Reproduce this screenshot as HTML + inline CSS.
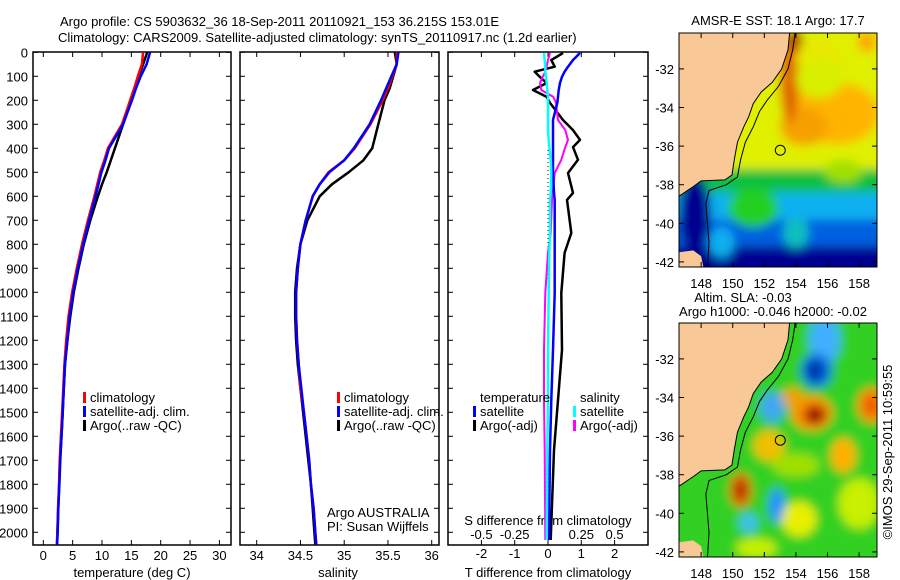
<!DOCTYPE html>
<html><head><meta charset="utf-8">
<style>
html,body{margin:0;padding:0;background:#fff;}
svg{display:block;font-family:"Liberation Sans",Arial,sans-serif;font-size:13px;}
</style></head>
<body>
<svg id="fig" width="900" height="580" viewBox="0 0 900 580" xmlns="http://www.w3.org/2000/svg">
<defs>
<filter id="blur1" x="-20%" y="-20%" width="140%" height="140%"><feGaussianBlur stdDeviation="5"/></filter>
<clipPath id="clipMap1"><rect x="679" y="33" width="198" height="234"/></clipPath>
<clipPath id="clipMap2"><rect x="679" y="323" width="198" height="234"/></clipPath>
<clipPath id="clipP1"><rect x="33" y="52" width="198" height="493"/></clipPath>
<clipPath id="clipP2"><rect x="240" y="52" width="199" height="493"/></clipPath>
<clipPath id="clipP3"><rect x="448" y="52" width="200" height="493"/></clipPath>
</defs>
<text x="60" y="26">Argo profile: CS 5903632_36 18-Sep-2011 20110921_153 36.215S 153.01E</text>
<text x="58" y="42">Climatology: CARS2009. Satellite-adjusted climatology: synTS_20110917.nc (1.2d earlier)</text>
<g id="g"></g>
</svg>
<script>
// ---------- data ----------
const depthT = [0,50,100,150,200,300,400,450,500,550,600,700,800,900,1000,1100,1200,1300,1400,1500,1600,1700,1800,1900,2000,2050];
const tempClim = [17.0,16.8,16.1,15.5,14.8,13.4,11.0,10.4,9.7,9.2,8.7,7.6,6.6,5.7,4.9,4.3,3.9,3.6,3.4,3.2,3.0,2.8,2.7,2.5,2.4,2.3];
const tempSat = [18.2,17.6,16.6,15.8,15.1,13.6,11.2,10.6,9.9,9.4,8.9,7.8,6.8,5.9,5.1,4.5,4.1,3.7,3.5,3.3,3.1,2.9,2.75,2.55,2.45,2.35];
const tempArgo = [17.7,17.0,16.2,15.5,14.8,13.6,12.2,11.5,10.8,10.0,9.3,8.0,6.9,6.0,5.2,4.6,4.1,3.7,3.5,3.3,3.1,2.85,2.7,2.55,2.4,2.35];
const salClim = [35.60,35.60,35.55,35.50,35.44,35.30,35.12,35.0,34.82,34.72,34.64,34.56,34.50,34.47,34.45,34.45,34.46,34.48,34.50,34.54,34.57,34.60,34.62,34.65,34.67,34.68];
const salSat = [35.62,35.60,35.54,35.48,35.42,35.29,35.11,35.0,34.83,34.72,34.64,34.56,34.50,34.47,34.45,34.45,34.46,34.48,34.51,34.54,34.57,34.60,34.62,34.65,34.67,34.68];
const salArgo = [35.58,35.60,35.56,35.52,35.46,35.39,35.32,35.22,35.05,34.86,34.72,34.58,34.50,34.46,34.44,34.44,34.45,34.47,34.50,34.53,34.56,34.59,34.62,34.64,34.66,34.67];
const depthD = [3,32,60,81,102,128,157,186,211,282,324,365,395,448,503,586,615,753,836,1003,1240,1449,1657,2032];
const tDiffArgo = [0.45,0.1,0.2,-0.4,-0.25,-0.04,-0.45,-0.04,0.06,0.45,0.75,0.96,0.75,0.9,0.6,0.75,0.57,0.7,0.5,0.4,0.42,0.3,0.18,0.08];
const tDiffSat = [0.96,0.75,0.6,0.5,0.42,0.36,0.32,0.3,0.28,0.15,0.15,0.15,0.15,0.15,0.15,0.18,0.2,0.2,0.2,0.2,0.15,0.1,0.06,0.03];
const sDiffArgo = [0.015,0.0,-0.01,-0.02,-0.04,-0.06,-0.05,0.04,0.06,0.075,0.13,0.15,0.13,0.1,0.05,0.035,0.03,0.02,0.0,-0.02,-0.03,-0.03,-0.025,-0.02];
const sDiffSat = [-0.03,-0.025,-0.02,-0.02,-0.015,-0.01,-0.005,0.0,0.0,0.0,0.0,0.005,0.01,0.02,0.025,0.02,0.015,0.015,0.01,0.005,0.0,0.0,-0.005,-0.01];
const depthTicks = [0,100,200,300,400,500,600,700,800,900,1000,1100,1200,1300,1400,1500,1600,1700,1800,1900,2000];
const tempTicks = [0,5,10,15,20,25,30];
const salTicks = [34,34.5,35,35.5,36];
const tDiffTicks = [-2,-1,0,1,2];
const sDiffTicks = [-0.5,-0.25,0,0.25,0.5];
const lonTicks = [148,150,152,154,156,158];
const latTicks = [-32,-34,-36,-38,-40,-42];
const argoLon = 153.01, argoLat = -36.215;

// ---------- scales ----------
const yD = d => 52.3 + d*0.24;
const xT = t => 43.3 + t*5.87;
const xS = s => 256.7 + (s-34)*87.5;
const xTd = t => 548 + t*33.3;
const xSd = s => 548 + s*133.2;
const mX = lon => 679 + (lon-146.6)*15.8;
const mY = (lat,top) => top + (-30.14-lat)*19.3;

const NS="http://www.w3.org/2000/svg";
const G=document.getElementById('g');
function mk(tag, attrs, parent){const e=document.createElementNS(NS,tag);for(const k in attrs)e.setAttribute(k,attrs[k]);(parent||G).appendChild(e);return e;}
function txt(x,y,s,anchor,parent){const t=mk('text',{x:x,y:y,'text-anchor':anchor||'start'},parent);t.textContent=s;return t;}

// ---------- panels ----------
const panels=[{x:33,w:198},{x:240,w:199},{x:448,w:200}];
panels.forEach((p,i)=>{
  const r=mk('rect',{x:p.x,y:52,width:p.w,height:493,fill:'none',stroke:'#000','stroke-width':1.5});
  
  
  depthTicks.forEach(d=>{
    mk('line',{x1:p.x,x2:p.x+5,y1:yD(d),y2:yD(d),stroke:'#000'});
    mk('line',{x1:p.x+p.w-5,x2:p.x+p.w,y1:yD(d),y2:yD(d),stroke:'#000'});
  });
});
depthTicks.forEach(d=>{
  const t=txt(28,yD(d)+5,String(d),'end');
  
  
});
function xTicks(vals,fx,ly){
  vals.forEach(v=>{
    const x=fx(v);
    mk('line',{x1:x,x2:x,y1:52,y2:57,stroke:'#000'});
    mk('line',{x1:x,x2:x,y1:540,y2:545,stroke:'#000'});
    const t=txt(x,ly,String(v),'middle');
    
    
  });
}
xTicks(tempTicks,xT,560);
xTicks(salTicks,xS,560);
xTicks(tDiffTicks,xTd,558);
sDiffTicks.forEach(v=>{const t=txt(xSd(v),539,String(v),'middle');
  
  });
let a;
a=txt(132,577,'temperature (deg C)','middle');
a=txt(338,577,'salinity','middle');
a=txt(548,577,'T difference from climatology','middle');
a=txt(548,525,'S difference from climatology','middle');
a=txt(327,517,'Argo AUSTRALIA');
a=txt(327,531,'PI: Susan Wijffels');

const zl=mk('line',{x1:xTd(0),x2:xTd(0),y1:150,y2:500,stroke:'#000','stroke-dasharray':'1,3'});



function line(xs,ys,fx,color,clip,name,w){
  const pts=xs.map((v,i)=>fx(v).toFixed(1)+','+yD(ys[i]).toFixed(1)).join(' ');
  const pl=mk('polyline',{points:pts,fill:'none',stroke:color,'stroke-width':w||2.5,'clip-path':'url(#'+clip+')','stroke-linejoin':'round'});
  
  
}
line(tempArgo,depthT,xT,'#000','clipP1','argo-temperature-line');
line(tempClim,depthT,xT,'#f00','clipP1','climatology-temperature-line');
line(tempSat,depthT,xT,'#00f','clipP1','satellite-temperature-line');
line(salArgo,depthT,xS,'#000','clipP2','argo-salinity-line');
line(salClim,depthT,xS,'#f00','clipP2','climatology-salinity-line');
line(salSat,depthT,xS,'#00f','clipP2','satellite-salinity-line');
line(tDiffArgo,depthD,xTd,'#000','clipP3','t-diff-argo-line',2.5);
line(sDiffArgo,depthD,xSd,'#f0f','clipP3','s-diff-argo-line',2);
line(tDiffSat,depthD,xTd,'#00f','clipP3','t-diff-satellite-line',2.5);
line(sDiffSat,depthD,xSd,'#0ff','clipP3','s-diff-satellite-line',2.5);

function legend(x,y,items,name){
  items.forEach((it,i)=>{
    const yy=y+i*14;
    if(it[1]){const b=mk('rect',{x:x,y:yy-10,width:3,height:11,fill:it[1]});
      
      }
    const t=txt(x+7,yy,it[0]);
    
    
  });
}
legend(83,402,[['climatology','#f00'],['satellite-adj. clim.','#00f'],['Argo(..raw -QC)','#000']],'legend-temperature');
legend(337,402,[['climatology','#f00'],['satellite-adj. clim.','#00f'],['Argo(..raw -QC)','#000']],'legend-salinity');
legend(473,402,[['temperature',null],['satellite','#00f'],['Argo(-adj)','#000']],'legend-t-diff');
legend(573,402,[['salinity',null],['satellite','#0ff'],['Argo(-adj)','#f0f']],'legend-s-diff');

// ---------- maps ----------
const coast=[[153.6,-30.14],[153.5,-31],[153.1,-32],[152.5,-32.7],[151.8,-33.2],[151.3,-33.8],[151,-34.5],[150.7,-35],[150.3,-35.8],[150.1,-36.7],[149.95,-37.5],[149.5,-37.75],[148,-37.8],[147.5,-38.1],[146.6,-38.6]];
const shelf=[[153.95,-30.14],[153.8,-31],[153.5,-32],[152.9,-32.9],[152.2,-33.6],[151.7,-34.2],[151.3,-35],[150.8,-35.8],[150.5,-36.7],[150.3,-37.6],[149.6,-38.0],[148.5,-38.3],[148.3,-39],[148.4,-40],[148.5,-41],[148.4,-42.3]];
const tas=[[146.6,-41.5],[147.5,-41.4],[148.0,-41.7],[148.15,-42.3],[146.6,-42.3]];
// bands: latTop, latBottom, color
const sstBands=[[-29,-37.2,'#e0f000'],[-37.2,-38.4,'#10c040'],[-38.4,-39.8,'#10b0f0'],[-39.8,-41.2,'#0060e0'],[-41.2,-43,'#000090']];
const slaBands=[[-29,-43,'#30d020']];
const sstBlobs=[
 [156.5,-34.3,2.8,1.6,'#ffb400'],[154.5,-35,1.5,1.0,'#f5a000'],[153.6,-32.5,0.6,2.3,'#e06000'],[153.9,-30.5,0.5,0.6,'#b02000'],
 [158.5,-30.6,0.6,0.5,'#ffa000'],[155.5,-31.5,1.5,1,'#e8e800'],[155.5,-32.5,1.5,1,'#d8f000'],
 [151.3,-39.2,1.6,1.0,'#20d020'],[157,-37.3,1.2,0.6,'#a0e000'],[154,-40.5,0.8,0.8,'#10c0c0'],
 [147.6,-39.5,1.0,2.0,'#000090'],[149.3,-41,0.8,0.8,'#10b0f0']];
const slaBlobs=[
 [155.8,-31,1.0,1.3,'#40b0ff'],[155.3,-32.6,1.0,0.9,'#0070e0'],[155.2,-32.6,0.5,0.5,'#0020a0'],
 [155,-34.8,1.3,0.9,'#ff9000'],[155.2,-34.9,0.7,0.5,'#a00000'],[153.8,-34,0.7,0.5,'#f0a000'],[158.8,-34.4,0.9,0.9,'#ff8000'],[158.8,-34.4,0.4,0.4,'#e05000'],
 [152.5,-34.5,0.8,0.8,'#40a8f0'],[152.3,-36.5,1.0,0.8,'#f0c000'],[157,-37,0.8,0.9,'#ffb000'],[150.5,-38.8,0.7,0.9,'#e06000'],[150.5,-38.8,0.35,0.45,'#b02000'],
 [152.8,-39.6,0.5,0.9,'#2090ff'],[151,-40.5,0.6,0.5,'#40c0f0'],[154.2,-40.3,1.1,0.9,'#e8f000'],[158,-39.5,1.3,1.3,'#c8f000'],[151.5,-41.8,1.3,0.5,'#c8f000'],[154,-37.5,1.5,0.6,'#a0e000']];

function drawMap(top,clip,bands,blobs,name){
  const g=mk('g',{'clip-path':'url(#'+clip+')'});
  
  
  const bg=mk('g',{filter:'url(#blur1)'},g);
  bands.forEach(b=>{
    mk('rect',{x:660,y:mY(b[0],top),width:240,height:mY(b[1],top)-mY(b[0],top),fill:b[2]},bg);
  });
  blobs.forEach(b=>{
    const e=mk('ellipse',{cx:mX(b[0]),cy:mY(b[1],top),rx:b[2]*15.8,ry:b[3]*19.3,fill:b[4]},bg);
    
    
  });
  const land=coast.concat([[146.0,-38.6],[146.0,-29.5],[153.6,-29.5]]);
  const lp=mk('polygon',{points:land.map(p=>mX(p[0])+','+mY(p[1],top)).join(' '),fill:'#f8c896',stroke:'#000','stroke-width':1},g);
  
  
  const tp=mk('polygon',{points:tas.map(p=>mX(p[0])+','+mY(p[1],top)).join(' '),fill:'#f8c896'},g);
  
  
  mk('polyline',{points:shelf.map(p=>mX(p[0])+','+mY(p[1],top)).join(' '),fill:'none',stroke:'#000','stroke-width':1},g);
  const fr=mk('rect',{x:679,y:top,width:198,height:234,fill:'none',stroke:'#000'});
  
  
  const m=mk('circle',{cx:mX(argoLon),cy:mY(argoLat,top),r:5,fill:'none',stroke:'#000'});
  
  
  lonTicks.forEach(l=>{
    const x=mX(l);
    mk('line',{x1:x,x2:x,y1:top,y2:top+5,stroke:'#000'});
    mk('line',{x1:x,x2:x,y1:top+229,y2:top+234,stroke:'#000'});
    const t=txt(x,top+255,String(l),'middle');
    
    
  });
  latTicks.forEach(l=>{
    const y=mY(l,top);
    mk('line',{x1:679,x2:684,y1:y,y2:y,stroke:'#000'});
    mk('line',{x1:872,x2:877,y1:y,y2:y,stroke:'#000'});
    const t=txt(674,y+5,String(l),'end');
    
    
  });
}
drawMap(33,'clipMap1',sstBands,sstBlobs,'sst-map');
drawMap(323,'clipMap2',slaBands,slaBlobs,'sla-map');
a=txt(778,25,'AMSR-E SST: 18.1 Argo: 17.7','middle');
a=txt(743,302,'Altim. SLA: -0.03','middle');
a=txt(773,316,'Argo h1000: -0.046 h2000: -0.02','middle');
a=mk('text',{x:0,y:0,'text-anchor':'middle',transform:'translate(892,452) rotate(-90)'});
a.textContent='©IMOS 29-Sep-2011 10:59:55';


</script>
</body></html>
